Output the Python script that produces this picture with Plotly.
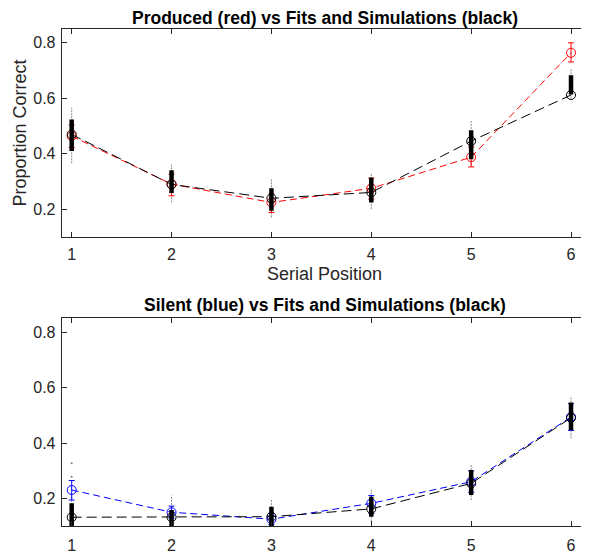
import plotly.graph_objects as go

# ---------------- data ----------------
positions = [1, 2, 3, 4, 5, 6]
x_ticks = [1, 2, 3, 4, 5, 6]
y_ticks = [0.2, 0.4, 0.6, 0.8]

# Produced (red) data with error bars
produced = [0.464, 0.291, 0.225, 0.276, 0.388, 0.764]
produced_err_plus = [0.040, 0.036, 0.030, 0.036, 0.037, 0.036]
produced_err_minus = [0.041, 0.042, 0.036, 0.039, 0.035, 0.033]
fit_top = [0.470, 0.290, 0.240, 0.261, 0.446, 0.612]

# Simulations (top): core (thick) and full (thin) ranges
sim_top_lo = [0.410, 0.259, 0.195, 0.225, 0.381, 0.614]
sim_top_hi = [0.524, 0.341, 0.276, 0.315, 0.485, 0.683]
sim_top_min = [0.366, 0.225, 0.171, 0.201, 0.360, 0.600]
sim_top_max = [0.566, 0.363, 0.311, 0.330, 0.518, 0.706]

# Silent (blue) data with error bars
silent = [0.231, 0.151, 0.126, 0.183, 0.261, 0.494]
silent_err_plus = [0.034, 0.022, 0.020, 0.028, 0.039, 0.048]
silent_err_minus = [0.036, 0.021, 0.020, 0.036, 0.038, 0.048]
fit_bot = [0.133, 0.133, 0.135, 0.163, 0.255, 0.491]

# Simulations (bottom)
sim_bot_lo = [0.090, 0.090, 0.090, 0.135, 0.213, 0.446]
sim_bot_hi = [0.183, 0.159, 0.171, 0.207, 0.303, 0.546]
sim_bot_min = [0.080, 0.080, 0.080, 0.117, 0.195, 0.417]
sim_bot_max = [0.210, 0.211, 0.195, 0.237, 0.323, 0.566]
sim_bot_outlier_x = [1, 1]
sim_bot_outlier_y = [0.279, 0.327]

titles = ["Produced (red) vs Fits and Simulations (black)",
          "Silent (blue) vs Fits and Simulations (black)"]
x_label = "Serial Position"
y_label = "Proportion Correct"

# ---------------- figure ----------------
OFF = 8  # page body margin
W, H = 589 - OFF, 554 - OFF
FONT = "Liberation Sans, Arial, Helvetica, sans-serif"
AX = "#262626"


def fx(px):
    return (px - OFF) / W


def fy(py):
    return 1 - (py - OFF) / H


fig = go.Figure()


def segments(xs, lo, hi):
    sx, sy = [], []
    for x, a, b in zip(xs, lo, hi):
        sx += [x, x, None]
        sy += [a, b, None]
    return sx, sy


def add_panel(row, data, ep, em, color, fit, lo, hi, mn, mx, dash_data):
    xa = "x" if row == 1 else "x2"
    ya = "y" if row == 1 else "y2"
    sx, sy = segments(positions, mn, mx)
    fig.add_trace(go.Scatter(x=sx, y=sy, mode="lines", xaxis=xa, yaxis=ya,
                             line=dict(color="#8a8a8a", width=1, dash="2px,1px"),
                             showlegend=False, hoverinfo="skip"))
    fig.add_trace(go.Scatter(x=positions, y=data, mode="lines+markers", xaxis=xa, yaxis=ya,
                             line=dict(color=color, width=1, dash=dash_data),
                             marker=dict(symbol="circle-open", size=9, color=color,
                                         line=dict(width=1, color=color)),
                             error_y=dict(type="data", array=ep, arrayminus=em, symmetric=False,
                                          color=color, thickness=1, width=3),
                             showlegend=False))
    sx, sy = segments(positions, lo, hi)
    fig.add_trace(go.Scatter(x=sx, y=sy, mode="lines", xaxis=xa, yaxis=ya,
                             line=dict(color="black", width=4.5),
                             showlegend=False, hoverinfo="skip"))
    fig.add_trace(go.Scatter(x=positions, y=fit, mode="lines+markers", xaxis=xa, yaxis=ya,
                             line=dict(color="black", width=1, dash="10px,5px"),
                             marker=dict(symbol="circle-open", size=9, color="black",
                                         line=dict(width=1, color="black")),
                             showlegend=False))


add_panel(1, produced, produced_err_plus, produced_err_minus, "#ff0000", fit_top,
          sim_top_lo, sim_top_hi, sim_top_min, sim_top_max, "7px,4px")
add_panel(2, silent, silent_err_plus, silent_err_minus, "#0000ff", fit_bot,
          sim_bot_lo, sim_bot_hi, sim_bot_min, sim_bot_max, "7px,4px")
fig.add_trace(go.Scatter(x=sim_bot_outlier_x, y=sim_bot_outlier_y, mode="markers",
                         xaxis="x2", yaxis="y2",
                         marker=dict(color="#7a7a7a", size=2), showlegend=False))

x_dom = [fx(61.7), fx(588)]
top_dom = [fy(238), fy(29)]
bot_dom = [fy(528.3), fy(319.3)]

axis_common = dict(showline=True, linecolor=AX, linewidth=1, mirror="ticks",
                   ticks="inside", ticklen=5, tickcolor=AX, tickwidth=1,
                   showgrid=False, zeroline=False,
                   tickfont=dict(family=FONT, size=16, color=AX))

fig.update_layout(
    width=W, height=H,
    margin=dict(l=0, r=0, t=0, b=0),
    paper_bgcolor="white", plot_bgcolor="white",
    showlegend=False,
    xaxis=dict(domain=x_dom, range=[0.9, 6.17], tickvals=x_ticks, anchor="y",
               ticklabelstandoff=3, **axis_common),
    yaxis=dict(domain=top_dom, range=[0.1, 0.85], tickvals=y_ticks,
               ticktext=[f"{v:.1f}" for v in y_ticks], anchor="x",
               ticklabelstandoff=2, **axis_common),
    xaxis2=dict(domain=x_dom, range=[0.9, 6.17], tickvals=x_ticks, anchor="y2",
                ticklabelstandoff=4, **axis_common),
    yaxis2=dict(domain=bot_dom, range=[0.1, 0.85], tickvals=y_ticks,
                ticktext=[f"{v:.1f}" for v in y_ticks], anchor="x2",
                ticklabelstandoff=2, **axis_common),
)

cx = fx((61.7 + 588) / 2)
fig.add_annotation(text="<b>" + titles[0] + "</b>", x=cx, y=fy(18.5), xref="paper", yref="paper",
                   showarrow=False, xanchor="center", yanchor="middle", borderpad=0,
                   font=dict(family=FONT, size=17.5, color="black"))
fig.add_annotation(text="<b>" + titles[1] + "</b>", x=cx, y=fy(306), xref="paper", yref="paper",
                   showarrow=False, xanchor="center", yanchor="middle", borderpad=0,
                   font=dict(family=FONT, size=17.5, color="black"))
fig.add_annotation(text=x_label, x=cx, y=fy(275), xref="paper", yref="paper",
                   showarrow=False, xanchor="center", yanchor="middle", borderpad=0,
                   font=dict(family=FONT, size=18, color=AX))
fig.add_annotation(text=y_label, x=fx(20), y=fy(134), xref="paper", yref="paper",
                   showarrow=False, xanchor="center", yanchor="middle", textangle=-90,
                   font=dict(family=FONT, size=18, color=AX))

fig.write_html("out.html")
